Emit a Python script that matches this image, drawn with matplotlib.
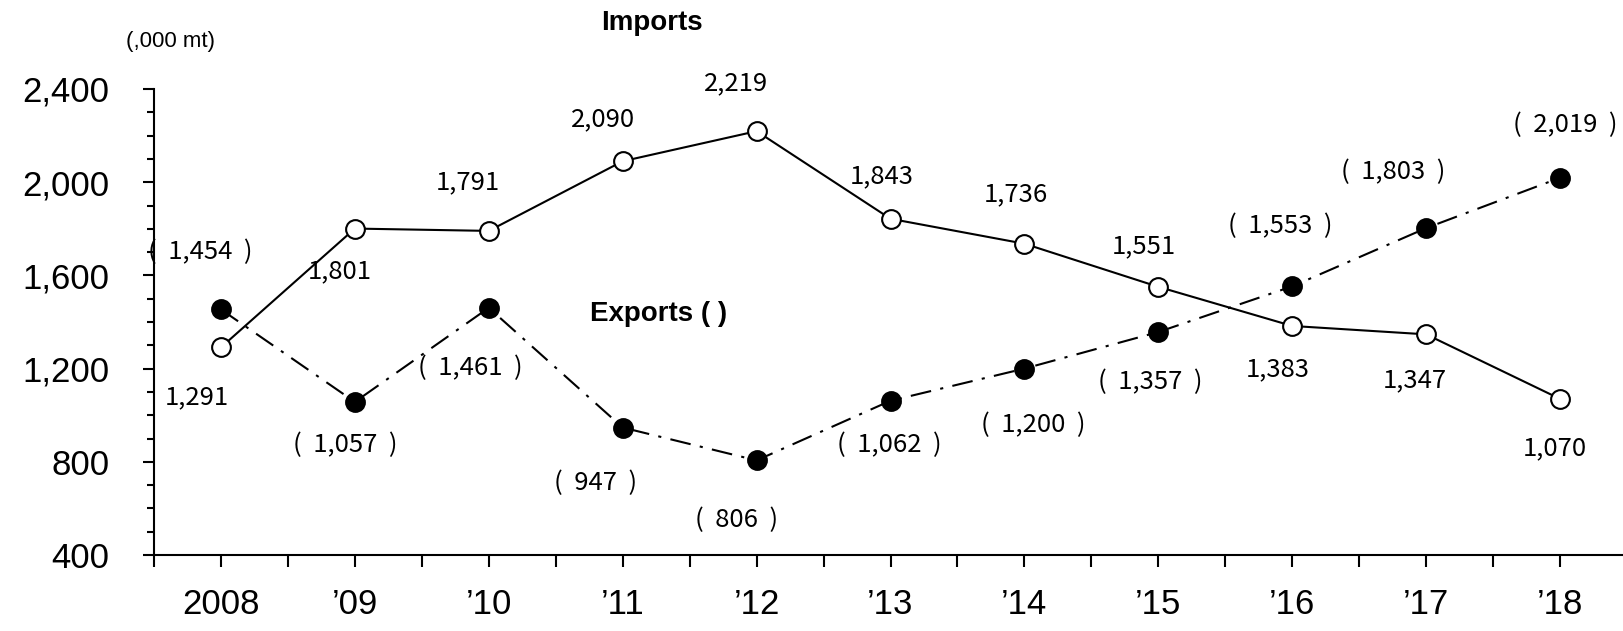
"""Imports / exports volume chart, 2008-2018 (,000 mt)."""

import matplotlib
matplotlib.use("Agg")
import matplotlib.pyplot as plt
from matplotlib.ticker import FixedLocator, MultipleLocator, FuncFormatter

# data
years = ["2008", "’09", "’10", "’11", "’12", "’13", "’14", "’15", "’16", "’17", "’18"]
imports = [1291, 1801, 1791, 2090, 2219, 1843, 1736, 1551, 1383, 1347, 1070]
exports = [1454, 1057, 1461, 947, 806, 1062, 1200, 1357, 1553, 1803, 2019]

# label offsets in pixels (dx, dy up)
imp_off = [(-24, -50), (-15, -43), (-21, 49), (-20, 42), (-21, 48), (-9, 43),
           (-9, 49), (-15, 41), (-14, -43), (-11, -46), (-5, -49)]
exp_off = [(-21, 57), (-10, -43), (-18, -60), (-27, -56), (-20, -60), (-1, -44),
           (9, -56), (-8, -50), (-12, 60), (-33, 56), (5, 53)]

W, H = 1623, 631
fig = plt.figure(figsize=(W / 100, H / 100), dpi=100)
ax = fig.add_axes([154 / W, 76 / H, 1473 / W, 466 / H])

x = range(len(years))
ax.plot(x, imports, color="black", lw=1.5, marker="o", ms=13.5,
        mfc="white", mec="black", mew=1.5, zorder=3)
ax.plot(x, exports, color="black", lw=1.5, ls=(0, (10, 4.5, 1.5, 4.5)),
        marker="o", ms=13.5, mfc="black", mec="black", mew=1.5, zorder=3)

lab_font = dict(family=["Noto Sans CJK JP", "DejaVu Sans"], fontsize=18.5)
for i, v in enumerate(imports):
    ax.annotate(f"{v:,}", (i, v), xytext=imp_off[i], textcoords="offset pixels",
                ha="center", va="center", **lab_font)
for i, v in enumerate(exports):
    ax.annotate(f"(  {v:,}  )", (i, v), xytext=exp_off[i], textcoords="offset pixels",
                ha="center", va="center", annotation_clip=False, **lab_font)

ax.set_xlim(-0.5, 10.5)
ax.set_ylim(400, 2400)
ax.spines[["top", "right"]].set_visible(False)
ax.spines[["left", "bottom"]].set_linewidth(1.5)

ax.xaxis.set_major_locator(FixedLocator(list(x)))
ax.xaxis.set_minor_locator(FixedLocator([i - 0.5 for i in range(len(years) + 1)]))
ax.set_xticklabels(years)
ax.yaxis.set_major_locator(MultipleLocator(400))
ax.yaxis.set_minor_locator(MultipleLocator(100))
ax.yaxis.set_major_formatter(FuncFormatter(lambda v, p: f"{int(v):,}"))

ax.tick_params(axis="x", which="both", direction="out", length=8.5, width=1.5,
               pad=15.5, labelsize=25)
ax.tick_params(axis="y", which="major", direction="out", length=8, width=1.5,
               pad=24, labelsize=25)
ax.tick_params(axis="y", which="minor", direction="out", length=5, width=1.5)
for t in ax.get_xticklabels() + ax.get_yticklabels():
    t.set_family("Liberation Sans")

fig.text(652 / W, 1 - 23 / H, "Imports", ha="center", va="center",
         fontsize=20, fontweight="bold", family="Liberation Sans")
fig.text(659 / W, 1 - 314 / H, "Exports ( )", ha="center", va="center",
         fontsize=20, fontweight="bold", family="Liberation Sans")
fig.text(170 / W, 1 - 41 / H, "(,000 mt)", ha="center", va="center",
         fontsize=16, family="Liberation Sans")

fig.savefig("out.png", dpi=100)
